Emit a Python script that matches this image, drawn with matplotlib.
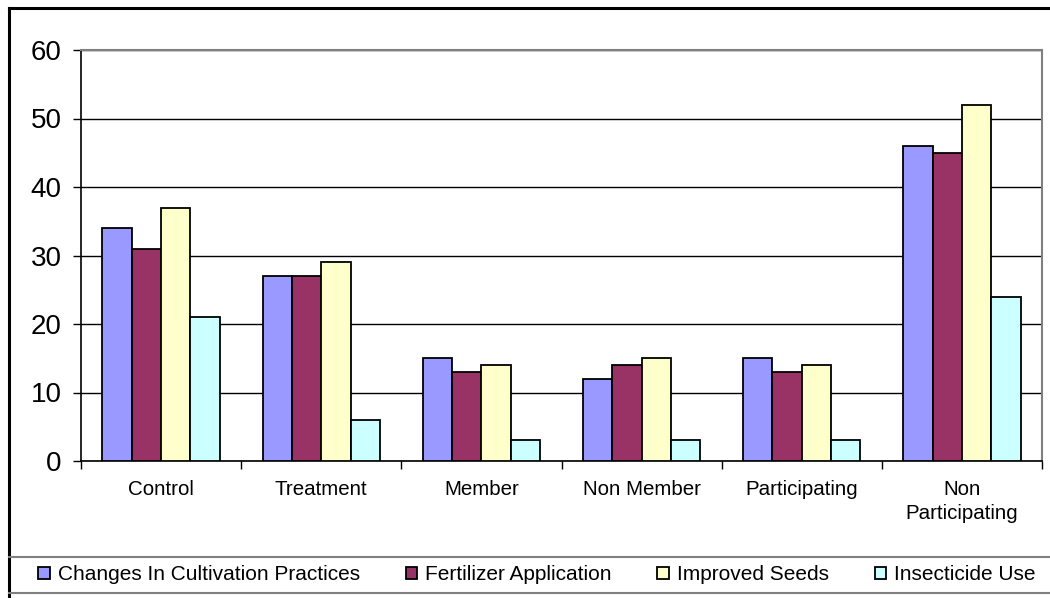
import numpy as np
import matplotlib
matplotlib.use('Agg')
import matplotlib.pyplot as plt
from matplotlib.lines import Line2D

plt.rcParams['font.family'] = ['Liberation Sans', 'DejaVu Sans']

# dados
grupos = ['Control', 'Treatment', 'Member', 'Non Member', 'Participating', 'Non\nParticipating']
series = ['Changes In Cultivation Practices', 'Fertilizer Application', 'Improved Seeds', 'Insecticide Use']
cultivo = [34, 27, 15, 12, 15, 46]
fertilizante = [31, 27, 13, 14, 13, 45]
sementes = [37, 29, 14, 15, 14, 52]
inseticida = [21, 6, 3, 3, 3, 24]
cores = ['#9999FF', '#993366', '#FFFFCC', '#CCFFFF']

W, H = 1050, 598
fig = plt.figure(figsize=(W / 100, H / 100), dpi=100)
ax = fig.add_axes([81 / W, (H - 461) / H, (1042 - 81) / W, (461 - 50) / H])

x = np.arange(len(grupos))
largura = 0.183
valores = [cultivo, fertilizante, sementes, inseticida]
for i, (v, c, nome) in enumerate(zip(valores, cores, series)):
    ax.bar(x + (i - 1.5) * largura, v, largura, color=c, edgecolor='black',
           linewidth=1.3, label=nome, zorder=3)

ax.set_xlim(-0.5, len(grupos) - 0.5)
ax.set_ylim(0, 60)
ax.set_yticks(range(0, 61, 10))
ax.yaxis.grid(True, color='black', linewidth=1, zorder=0)

ax.set_xticks(x)
ax.set_xticklabels(grupos, fontsize=14.8, linespacing=1.3)
ax.set_xticks(np.arange(-0.5, len(grupos), 1), minor=True)
ax.tick_params(axis='x', which='major', length=0, pad=14)
ax.tick_params(axis='x', which='minor', length=6, width=1, direction='out')
ax.tick_params(axis='y', length=6, width=1, direction='out', pad=8, labelsize=20)

for lado in ['top', 'right']:
    ax.spines[lado].set_color('#808080')
    ax.spines[lado].set_linewidth(1.5)
ax.spines['left'].set_linewidth(1.2)
ax.spines['bottom'].set_linewidth(1.2)

# moldura do grafico
def linha(x0, y0, x1, y1, cor, lw):
    fig.add_artist(Line2D([x0 / W, x1 / W], [1 - y0 / H, 1 - y1 / H],
                          color=cor, linewidth=lw, transform=fig.transFigure))

linha(9, 8, W, 8, 'black', 2.2)
linha(9, 8, 9, H, 'black', 2.2)
linha(9, 557, W, 557, '#808080', 1.5)
linha(9, 593, W, 593, '#808080', 1.5)

fig.legend(loc='center', bbox_to_anchor=(537 / W, 1 - 575 / H), ncol=4, frameon=False,
           fontsize=15, handlelength=0.55, handleheight=0.55, handletextpad=0.38,
           columnspacing=2.2, borderpad=0)

fig.savefig('out.png', dpi=100)
